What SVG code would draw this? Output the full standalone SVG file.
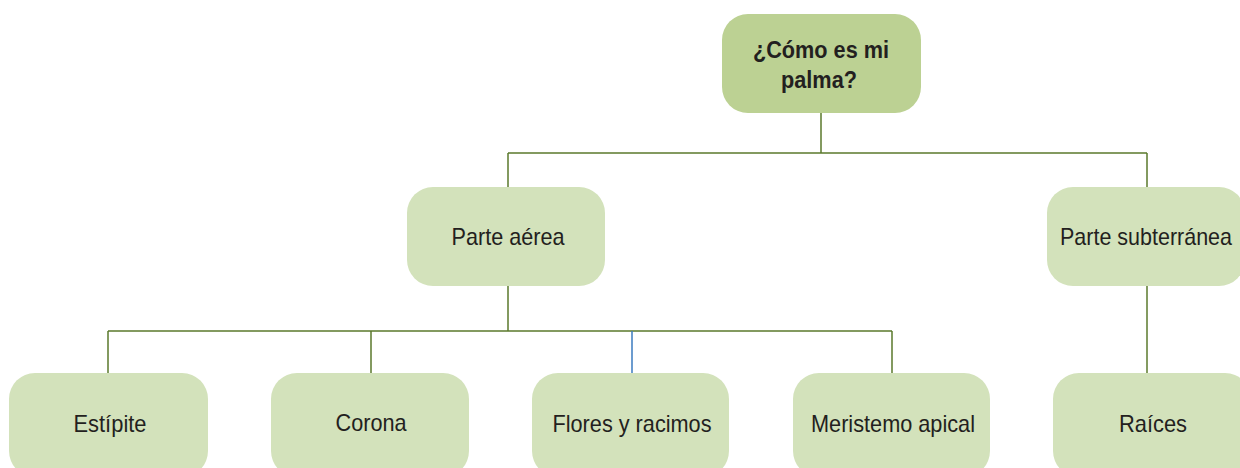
<svg xmlns="http://www.w3.org/2000/svg" width="1240" height="468" viewBox="0 0 1240 468">
<style>
.n{fill:#d3e2bb}
.r{fill:#bcd193}
.t{font-family:"Liberation Sans",Arial,sans-serif;font-size:24px;fill:#231f20;text-anchor:middle}
.b{font-family:"Liberation Sans",Arial,sans-serif;font-size:23px;font-weight:bold;fill:#231f20;text-anchor:middle}
.c{stroke:#5b7a2c;stroke-width:1.5;fill:none}
</style>
<rect width="1240" height="468" fill="#ffffff"/>
<g id="connectors">
<path class="c" d="M821,113V153M508,153H1147M508,153V187M1147,153V187"/>
<path class="c" d="M508,286V331M108,331H892M108,331V373M371,331V373M892,331V373"/>
<path d="M632,331V373" stroke="#3b7bbf" stroke-width="1.5" fill="none"/>
<path class="c" d="M1147,286V374"/>
</g>
<g id="root"><rect class="r" x="722" y="14" width="199" height="99" rx="26"/>
<text class="b" x="821" y="58" textLength="136" lengthAdjust="spacingAndGlyphs">¿Cómo es mi</text>
<text class="b" x="819" y="88" textLength="76" lengthAdjust="spacingAndGlyphs">palma?</text></g>
<g id="aerea"><rect class="n" x="407" y="187" width="198" height="99" rx="26"/>
<text class="t" x="508" y="245" textLength="113" lengthAdjust="spacingAndGlyphs">Parte aérea</text></g>
<g id="subterranea"><rect class="n" x="1047" y="187" width="198" height="99" rx="26"/>
<text class="t" x="1146" y="245" textLength="172" lengthAdjust="spacingAndGlyphs">Parte subterránea</text></g>
<g id="estipite"><rect class="n" x="9" y="373" width="199" height="104" rx="26"/>
<text class="t" x="110" y="432" textLength="73" lengthAdjust="spacingAndGlyphs">Estípite</text></g>
<g id="corona"><rect class="n" x="271" y="373" width="198" height="104" rx="26"/>
<text class="t" x="371" y="431" textLength="71" lengthAdjust="spacingAndGlyphs">Corona</text></g>
<g id="flores"><rect class="n" x="532" y="373" width="197" height="104" rx="26"/>
<text class="t" x="632" y="432" textLength="159" lengthAdjust="spacingAndGlyphs">Flores y racimos</text></g>
<g id="meristemo"><rect class="n" x="793" y="373" width="197" height="104" rx="26"/>
<text class="t" x="893" y="432" textLength="164" lengthAdjust="spacingAndGlyphs">Meristemo apical</text></g>
<g id="raices"><rect class="n" x="1053" y="373" width="198" height="104" rx="26"/>
<text class="t" x="1153" y="432" textLength="68" lengthAdjust="spacingAndGlyphs">Raíces</text></g>
</svg>
